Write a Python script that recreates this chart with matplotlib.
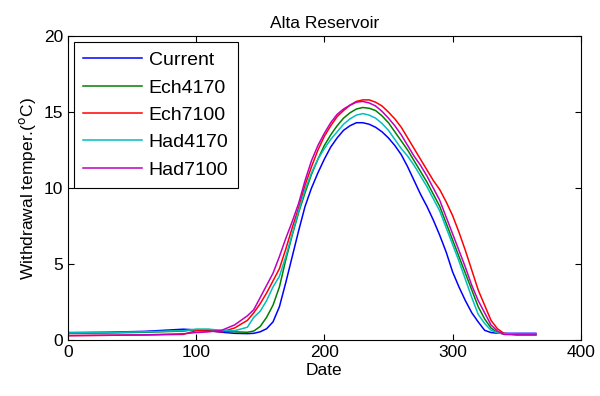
import matplotlib
matplotlib.use("Agg")
import matplotlib.pyplot as plt

days = [1, 30, 60, 90, 100, 110, 120, 130, 140, 145, 150, 155, 160, 165, 170, 175, 180,
        185, 190, 195, 200, 205, 210, 215, 220, 225, 230, 235, 240, 245, 250, 255, 260,
        265, 270, 275, 280, 285, 290, 295, 300, 305, 310, 315, 320, 325, 330, 335, 340,
        350, 365]

current = [0.50, 0.52, 0.58, 0.72, 0.68, 0.62, 0.52, 0.45, 0.43, 0.45, 0.55, 0.75, 1.2,
           2.2, 3.8, 5.5, 7.2, 8.8, 10.0, 11.0, 11.9, 12.7, 13.3, 13.8, 14.1, 14.3, 14.3,
           14.2, 14.0, 13.7, 13.3, 12.8, 12.2, 11.4, 10.5, 9.6, 8.8, 7.9, 6.9, 5.8, 4.5,
           3.5, 2.6, 1.8, 1.2, 0.65, 0.5, 0.46, 0.45, 0.45, 0.45]
ech4170 = [0.45, 0.47, 0.52, 0.60, 0.70, 0.70, 0.60, 0.55, 0.52, 0.60, 0.90, 1.5, 2.3,
           3.5, 5.3, 6.9, 8.4, 9.7, 10.9, 11.9, 12.8, 13.5, 14.1, 14.6, 14.95, 15.2, 15.3,
           15.25, 15.1, 14.75, 14.3, 13.7, 13.1, 12.5, 11.8, 11.1, 10.4, 9.6, 8.8, 7.7,
           6.6, 5.5, 4.4, 3.3, 2.2, 1.4, 0.8, 0.5, 0.4, 0.38, 0.38]
ech7100 = [0.30, 0.32, 0.34, 0.38, 0.62, 0.60, 0.55, 0.80, 1.3, 1.8, 2.4, 3.1, 3.9,
           4.7, 6.0, 7.4, 8.7, 10.2, 11.4, 12.5, 13.4, 14.1, 14.7, 15.1, 15.45, 15.7, 15.8,
           15.8, 15.65, 15.4, 15.0, 14.55, 14.0, 13.3, 12.6, 11.9, 11.2, 10.5, 9.9, 9.1,
           8.2, 7.1, 5.9, 4.6, 3.3, 2.3, 1.3, 0.75, 0.45, 0.35, 0.35]
had4170 = [0.48, 0.50, 0.55, 0.62, 0.72, 0.72, 0.65, 0.62, 0.85, 1.5, 1.9, 2.6, 3.5,
           4.2, 5.5, 7.0, 8.5, 9.9, 11.0, 11.9, 12.6, 13.2, 13.7, 14.2, 14.55, 14.8, 14.9,
           14.8, 14.6, 14.25, 13.8, 13.2, 12.6, 12.1, 11.5, 10.8, 10.1, 9.3, 8.5, 7.4,
           6.3, 5.2, 4.0, 2.8, 1.7, 1.1, 0.65, 0.48, 0.42, 0.40, 0.40]
had7100 = [0.30, 0.32, 0.35, 0.42, 0.50, 0.55, 0.65, 1.0, 1.6, 2.0, 2.8, 3.6, 4.4,
           5.5, 6.7, 7.8, 9.0, 10.5, 11.8, 12.8, 13.6, 14.3, 14.85, 15.2, 15.45, 15.65, 15.7,
           15.6, 15.4, 15.05, 14.6, 14.1, 13.5, 12.8, 12.1, 11.5, 10.8, 10.0, 9.2, 8.1,
           7.0, 5.9, 4.8, 3.6, 2.6, 1.8, 1.0, 0.6, 0.38, 0.35, 0.35]

labels = ["Current", "Ech4170", "Ech7100", "Had4170", "Had7100"]
colors = ["#0000ff", "#008000", "#ff0000", "#00bfbf", "#bf00bf"]
xticks = [0, 100, 200, 300, 400]
yticks = [0, 5, 10, 15, 20]

plt.rcParams['font.family'] = ['Liberation Sans', 'DejaVu Sans']
fs = 12.5

fig = plt.figure(figsize=(6.0, 3.96), dpi=100)
ax = fig.add_axes([0.113, 0.141, 0.855, 0.768])

for series, lab, col in zip([current, ech4170, ech7100, had4170, had7100], labels, colors):
    ax.plot(days, series, color=col, lw=1.1, label=lab)

ax.set_xlim(0, 400)
ax.set_ylim(0, 20)
ax.set_xticks(xticks)
ax.set_yticks(yticks)
ax.tick_params(direction='in', top=True, right=True, labelsize=fs, length=4, width=0.8)
for s in ax.spines.values():
    s.set_linewidth(0.8)

ax.set_title("Alta Reservoir", fontsize=fs, pad=6)
ax.set_xlabel("Date", fontsize=fs, labelpad=2)
ax.set_ylabel("Withdrawal temper.($^{\\rm o}$C)", fontsize=fs, labelpad=4)

leg = ax.legend(loc='upper left', fontsize=14, fancybox=False, framealpha=1,
                edgecolor='black', handlelength=3.0, handletextpad=0.36,
                labelspacing=0.5, borderaxespad=0.3, borderpad=0.5)
leg.get_frame().set_linewidth(0.8)

fig.savefig("out.png", dpi=100)
